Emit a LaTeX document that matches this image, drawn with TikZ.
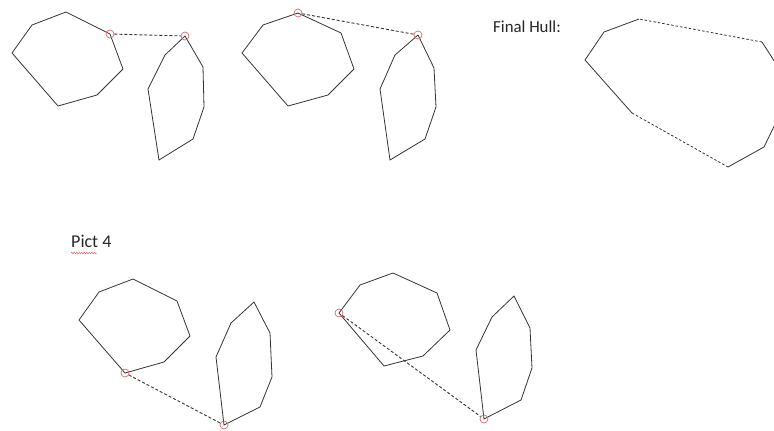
\documentclass[tikz,border=0pt]{standalone}
\usepackage{fontspec}
\setmainfont{Carlito}
\usetikzlibrary{decorations.pathmorphing}
\definecolor{edgecol}{HTML}{333333}
\definecolor{markcol}{HTML}{D86A6A}
\begin{document}
\begin{tikzpicture}[x=1pt,y=-1pt,
 hull/.style={draw=edgecol,line width=0.8pt,line join=round},
 bridge/.style={draw=edgecol,line width=0.9pt,dash pattern=on 3pt off 2pt},
 hulldash/.style={draw=edgecol,line width=0.8pt,dash pattern=on 2.5pt off 2pt},
 pick/.style={circle,draw=markcol,line width=0.7pt,minimum size=8pt,inner sep=0pt},
 lbl/.style={anchor=base west,inner sep=0pt,text=black!85}]
\useasboundingbox (0,0) rectangle (774,431);
\clip (0,0) rectangle (774,431);

% picture 1
\draw[hull] (66,12)--(110,34)--(123,69)--(97,95)--(58,106)--(12,53)--(32,25)--cycle;
\draw[hull] (185,36)--(203,67)--(204,107)--(193,139)--(159,160)--(148,89)--(165,55)--cycle;
\node[pick] (a1) at (110,34) {};
\node[pick] (b1) at (185,36) {};
\draw[bridge] (a1)--(b1);

% picture 2
\draw[hull] (298,13)--(341,33)--(354,69)--(328,95)--(288,106)--(242,53)--(263,25)--cycle;
\draw[hull] (418,35)--(434,68)--(436,107)--(425,139)--(390,160)--(380,89)--(395,55)--cycle;
\node[pick] (a2) at (298,13) {};
\node[pick] (b2) at (418,35) {};
\draw[bridge] (a2)--(b2);

% final hull
\node[lbl,font=\fontsize{16.8}{19}\selectfont] (final) at (493,32) {Final Hull:};
\coordinate (h1) at (639,19);
\coordinate (h4) at (632,113);
\coordinate (h5) at (728,167);
\coordinate (h9) at (762,42);
\draw[hull] (h1)--(604,32)--(585,60)--(h4);
\draw[hulldash] (h4)--(h5);
\draw[hull] (h5)--(764,147)--(781,112)--(780,70)--(h9);
\draw[hulldash] (h9)--(h1);

% picture 4
\node[lbl,font=\fontsize{18}{20}\selectfont] (pict) at (71,247) {Pict 4};
\draw[markcol,line width=0.5pt,decorate,decoration={snake,amplitude=0.8pt,segment length=2.5pt}] (71,253)--(97,253);
\draw[hull] (133,279)--(177,301)--(190,336)--(164,362)--(125,373)--(79,320)--(99,292)--cycle;
\draw[hull] (254,302)--(270,333)--(272,377)--(260,407)--(224,425)--(216,357)--(231,323)--cycle;
\node[pick] (a4) at (125,373) {};
\node[pick] (b4) at (224,425) {};
\draw[bridge] (a4)--(b4);

% picture 5
\draw[hull] (393,273)--(437,293)--(450,330)--(423,356)--(384,366)--(339,313)--(360,285)--cycle;
\draw[hull] (514,296)--(530,328)--(532,368)--(521,400)--(484,419)--(476,350)--(492,317)--cycle;
\node[pick] (a5) at (339,313) {};
\node[pick] (b5) at (484,419) {};
\draw[bridge] (a5)--(b5);
\end{tikzpicture}
\end{document}
